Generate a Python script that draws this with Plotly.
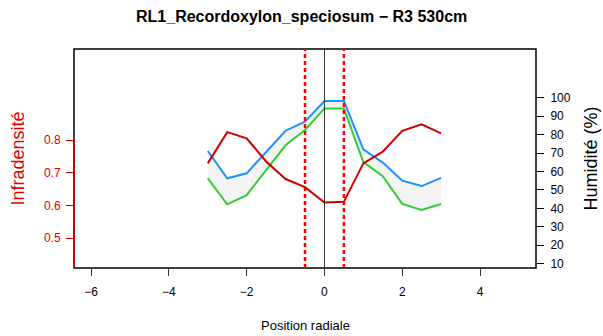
import plotly.graph_objects as go

# ---- data ----
positions = [-3.0, -2.5, -2.0, -1.5, -1.0, -0.5, 0.0, 0.5, 1.0, 1.5, 2.0, 2.5, 3.0]
infradensite = [0.729, 0.825, 0.806, 0.735, 0.681, 0.656, 0.609, 0.611, 0.729, 0.765, 0.829, 0.849, 0.821]
humidite_haut = [71.1, 56.3, 59.0, 70.6, 82.1, 87.0, 98.2, 98.2, 72.0, 64.8, 55.0, 52.1, 56.5]
humidite_bas = [56.3, 42.2, 47.2, 60.8, 74.2, 82.5, 94.2, 94.2, 65.1, 57.5, 42.4, 39.1, 42.4]
limites = [-0.5, 0.5]
centre = 0.0
x_ticks = [-6, -4, -2, 0, 2, 4]
x_ticktext = ["\u22126", "\u22124", "\u22122", "0", "2", "4"]
left_ticks = [0.5, 0.6, 0.7, 0.8]
right_ticks = [10, 20, 30, 40, 50, 60, 70, 80, 90, 100]

RED = "#CD0000"
TEXT_RED = "#E00000"
FONT = "Liberation Sans, Arial, Helvetica, sans-serif"

fig = go.Figure()

# shaded band between the two humidity curves
fig.add_trace(go.Scatter(
    x=positions + positions[::-1],
    y=humidite_haut + humidite_bas[::-1],
    fill="toself", fillcolor="#F4F4F4", mode="lines",
    line=dict(width=0), yaxis="y", hoverinfo="skip", showlegend=False))
fig.add_trace(go.Scatter(x=positions, y=humidite_haut, mode="lines",
                         line=dict(color="#1E90FF", width=2), yaxis="y", showlegend=False))
fig.add_trace(go.Scatter(x=positions, y=humidite_bas, mode="lines",
                         line=dict(color="#32CD32", width=2), yaxis="y", showlegend=False))
fig.add_trace(go.Scatter(x=positions, y=infradensite, mode="lines",
                         line=dict(color=RED, width=2), yaxis="y2", showlegend=False))

shapes = [
    dict(type="rect", xref="paper", yref="paper", x0=0, x1=1, y0=0, y1=1,
         line=dict(color="black", width=1.5), layer="above"),
    dict(type="line", xref="paper", yref="y2", x0=0, x1=0, y0=0.408, y1=left_ticks[-1],
         line=dict(color=RED, width=2), layer="above"),
    dict(type="line", xref="x", yref="paper", x0=centre, x1=centre, y0=0, y1=1,
         line=dict(color="#333333", width=1), layer="above"),
]
for v in limites:
    shapes.append(dict(type="line", xref="x", yref="paper", x0=v, x1=v, y0=0, y1=1,
                       line=dict(color="#FF0000", width=2.5, dash="4px,3px"), layer="above"))

fig.update_layout(
    width=603, height=336,
    margin=dict(l=74, r=67, t=49, b=68),
    paper_bgcolor="white", plot_bgcolor="white",
    font=dict(family=FONT, size=12, color="black"),
    showlegend=False,
    xaxis=dict(range=[-6.44, 5.44], tickvals=x_ticks, ticktext=x_ticktext,
               ticks="outside", ticklen=7, tickwidth=1, tickcolor="#333333",
               showgrid=False, zeroline=False, showline=False,
               ticklabelstandoff=6, tickfont=dict(size=12, color="black")),
    yaxis=dict(side="right", range=[7.67, 126.4], tickvals=right_ticks,
               ticks="outside", ticklen=7, tickwidth=1, tickcolor="black",
               showgrid=False, zeroline=False, showline=False,
               ticklabelstandoff=4, tickfont=dict(size=12, color="black")),
    yaxis2=dict(side="left", overlaying="y", range=[0.408, 1.08], tickvals=left_ticks,
                tickformat=".1f",
                ticks="outside", ticklen=7, tickwidth=1, tickcolor=RED,
                showgrid=False, zeroline=False, showline=False,
                ticklabelstandoff=3, tickfont=dict(size=12, color=TEXT_RED)),
    shapes=shapes,
    annotations=[
        dict(text="<b>RL1_Recordoxylon_speciosum \u2212 R3 530cm</b>", xref="paper", yref="paper",
             x=(301 - 74) / 462, y=1 + 33 / 219, xanchor="center", yanchor="middle",
             showarrow=False, font=dict(size=16, color="black")),
        dict(text="Position radiale", xref="paper", yref="paper",
             x=0.5, y=-57 / 219, xanchor="center", yanchor="middle",
             showarrow=False, font=dict(size=13, color="black")),
        dict(text="Infradensit\u00e9", xref="paper", yref="paper",
             x=-57 / 462, y=0.5, xanchor="center", yanchor="middle", textangle=-90,
             showarrow=False, font=dict(size=18, color=TEXT_RED)),
        dict(text="Humidit\u00e9 (%)", xref="paper", yref="paper",
             x=1 + 54 / 462, y=0.5, xanchor="center", yanchor="middle", textangle=-90,
             showarrow=False, font=dict(size=18, color="black")),
    ],
)

fig.write_html("out.html", config={"displayModeBar": False},
               post_script="document.body.style.margin='0px';")
